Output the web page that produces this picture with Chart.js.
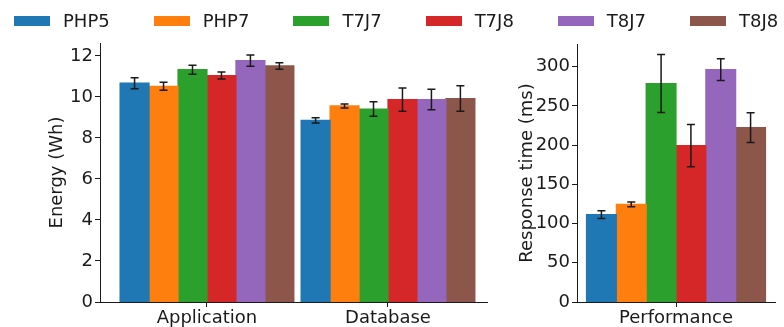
<!DOCTYPE html>
<html>
<head>
<meta charset="utf-8">
<script src="https://cdn.jsdelivr.net/npm/chart.js@4.4.1/dist/chart.umd.min.js"></script>
<style>
  body { margin: 0; background: #fff; width: 784px; height: 327px; position: relative; overflow: hidden; font-family: 'DejaVu Sans', sans-serif; }
  #legend { position: absolute; top: 10px; left: 14px; display: flex; gap: 44px; font-size: 18px; line-height: 22px; color: #1a1a1a; z-index: 2; }
  .item { display: flex; align-items: center; }
  .swatch { width: 36px; height: 10px; margin-right: 13px; }
  #energy { position: absolute; left: 0; top: 0; }
  #perf { position: absolute; left: 490px; top: 0; }
</style>
</head>
<body>
<div id="legend"></div>
<canvas id="energy" width="490" height="327"></canvas>
<canvas id="perf" width="294" height="327"></canvas>
<script>
// Series (one bar per configuration in each group)
const seriesNames = ['PHP5', 'PHP7', 'T7J7', 'T7J8', 'T8J7', 'T8J8'];
const seriesColors = ['#1f77b4', '#ff7f0e', '#2ca02c', '#d62728', '#9467bd', '#8c564b'];

// Energy chart
const energyCategories = ['Application', 'Database'];
const appEnergy    = [10.67, 10.52, 11.33, 11.04, 11.77, 11.51];
const appEnergyErr = [0.27, 0.20, 0.22, 0.17, 0.27, 0.16];
const dbEnergy     = [8.86, 9.56, 9.41, 9.87, 9.87, 9.92];
const dbEnergyErr  = [0.13, 0.10, 0.35, 0.57, 0.50, 0.62];

// Response time chart
const perfCategories = ['Performance'];
const responseTime    = [111.4, 124.6, 278.5, 199.4, 296.3, 222.4];
const responseTimeErr = [5, 3, 37, 27, 14, 19];

const INK = '#1a1a1a';
Chart.defaults.font.family = "'DejaVu Sans', sans-serif";
Chart.defaults.font.size = 18;
Chart.defaults.color = INK;

// Legend shared by both panels
const legend = document.getElementById('legend');
seriesNames.forEach((name, i) => {
    const item = document.createElement('div');
    item.className = 'item';
    item.innerHTML = `<span class="swatch" style="background:${seriesColors[i]}"></span><span>${name}</span>`;
    legend.appendChild(item);
});

// Draws black error bars with caps on top of every bar
const errorBarPlugin = {
    id: 'errorBars',
    afterDatasetsDraw(chart) {
        const ctx = chart.ctx;
        const yScale = chart.scales.y;
        ctx.save();
        ctx.strokeStyle = INK;
        ctx.lineWidth = 1.5;
        chart.data.datasets.forEach((ds, di) => {
            chart.getDatasetMeta(di).data.forEach((bar, j) => {
                const v = ds.data[j].y, e = ds.errors[j];
                const yTop = yScale.getPixelForValue(v + e);
                const yBot = yScale.getPixelForValue(v - e);
                ctx.beginPath();
                ctx.moveTo(bar.x, yTop); ctx.lineTo(bar.x, yBot);
                ctx.moveTo(bar.x - 4, yTop); ctx.lineTo(bar.x + 4, yTop);
                ctx.moveTo(bar.x - 4, yBot); ctx.lineTo(bar.x + 4, yBot);
                ctx.stroke();
            });
        });
        ctx.restore();
    }
};

function buildDatasets(groups, errGroups, catPct) {
    return seriesNames.map((name, i) => ({
        label: name,
        data: groups.map((g, k) => ({ x: k, y: g[i] })),
        errors: errGroups.map(g => g[i]),
        backgroundColor: seriesColors[i],
        borderWidth: 0,
        inflateAmount: 0.6,
        barPercentage: 1.0,
        categoryPercentage: catPct
    }));
}

function makeChart(id, cfg) {
    return new Chart(document.getElementById(id), {
        type: 'bar',
        data: { datasets: buildDatasets(cfg.groups, cfg.errGroups, cfg.catPct) },
        options: {
            responsive: false,
            animation: false,
            devicePixelRatio: 1,
            layout: { padding: cfg.padding },
            plugins: { legend: { display: false }, tooltip: { enabled: false } },
            scales: {
                x: {
                    type: 'linear',
                    offset: false,
                    min: cfg.xMin, max: cfg.xMax,
                    afterBuildTicks: s => { s.ticks = cfg.categories.map((_, k) => ({ value: k })); },
                    afterFit: s => { s.height = 25; },
                    ticks: { callback: v => cfg.categories[v], autoSkip: false, maxRotation: 0, padding: 1, color: INK },
                    grid: { offset: false, drawOnChartArea: false, tickLength: 5, color: INK },
                    border: { color: INK, width: 1 }
                },
                y: {
                    min: 0, max: cfg.yMax,
                    afterFit: s => { s.width = cfg.yWidth; },
                    ticks: { stepSize: cfg.yStep, includeBounds: false, padding: 2, color: INK },
                    grid: { drawOnChartArea: false, tickLength: 5, color: INK },
                    border: { color: INK, width: 1 },
                    title: { display: true, text: cfg.yTitle, color: INK, padding: { top: cfg.titlePad, bottom: 0 } }
                }
            }
        },
        plugins: [errorBarPlugin]
    });
}

makeChart('energy', {
    categories: energyCategories,
    groups: [appEnergy, dbEnergy],
    errGroups: [appEnergyErr, dbEnergyErr],
    catPct: 0.96,
    xMin: -0.591, xMax: 1.547,
    yMax: 12.63, yStep: 2,
    yWidth: 100, titlePad: 47,
    yTitle: 'Energy (Wh)',
    padding: { top: 43, right: 3, left: 0, bottom: 0 }
});

makeChart('perf', {
    categories: perfCategories,
    groups: [responseTime],
    errGroups: [responseTimeErr],
    catPct: 0.904,
    xMin: -0.5, xMax: 0.5,
    yMax: 329, yStep: 50,
    yWidth: 87, titlePad: 27,
    yTitle: 'Response time (ms)',
    padding: { top: 44, right: 9, left: 0, bottom: 0 }
});
</script>
</body>
</html>
